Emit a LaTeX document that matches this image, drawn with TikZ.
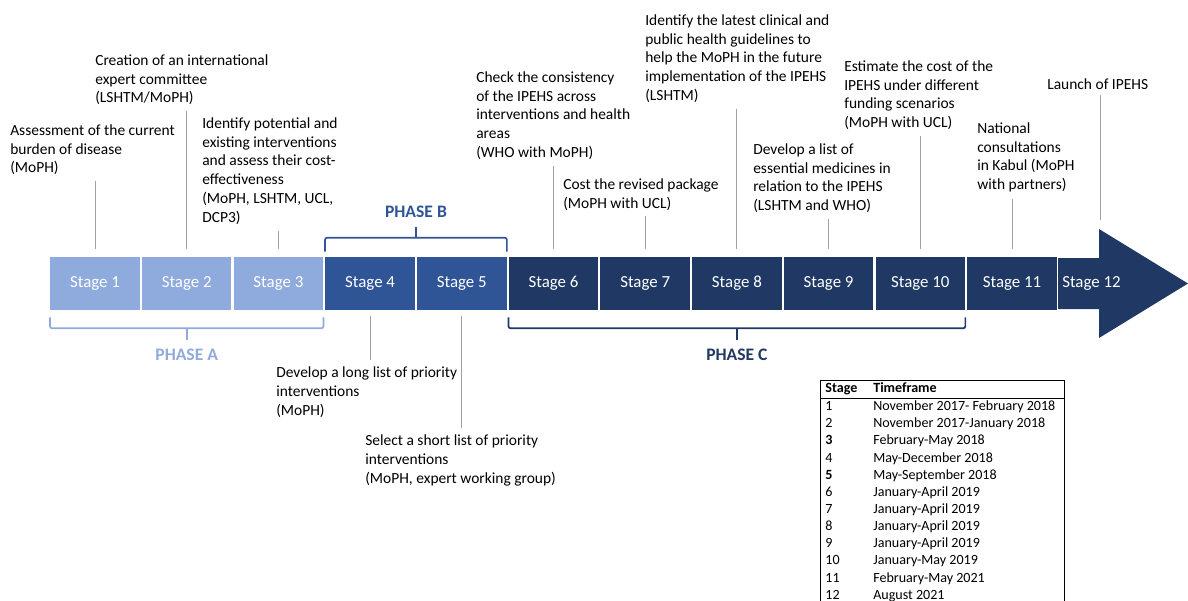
\documentclass[tikz,border=0pt]{standalone}
\usepackage{fontspec}
\setmainfont{Carlito}
\usetikzlibrary{calc}
\definecolor{phA}{HTML}{8FAADC}
\definecolor{phB}{HTML}{2F5597}
\definecolor{phC}{HTML}{203864}
\definecolor{leadgray}{HTML}{A0A0A0}
\tikzset{
  stagebox/.style={minimum width=2.2375cm, minimum height=1.325cm, inner sep=0pt, text=white, font=\fontsize{12}{14}\selectfont},
  note/.style={anchor=north west, align=left, inner sep=0pt, font=\fontsize{11}{13.5}\selectfont},
  leader/.style={draw=leadgray, line width=0.6pt, shorten >=1.5mm},
  bracket/.style={line width=1.2pt, rounded corners=1.5pt},
  phase/.style={font=\bfseries\fontsize{12.5}{15}\selectfont},
}
\begin{document}
\begin{tikzpicture}[x=0.025cm, y=-0.025cm, line join=round]
\useasboundingbox (0,0) rectangle (1188,600);
\def\pitch{91.7}
% stage boxes
\foreach \i/\c in {1/phA,2/phA,3/phA,4/phB,5/phB,6/phC,7/phC,8/phC,9/phC,10/phC,11/phC}
  \node[stagebox, fill=\c] (s\i) at ({95+\pitch*(\i-1)},283.5) {Stage \i};
\fill[phC] (1058,258) -- (1099,258) -- (1099,229) -- (1188,283.5) -- (1099,338) -- (1099,309) -- (1058,309) -- cycle;
\coordinate (h12) at (1100,229);
\node[anchor=west, inner sep=0pt, text=white, font=\fontsize{12}{14}\selectfont] (s12) at (1062,283.5) {Stage 12};

% phases
\draw[bracket,phA] ($(s1.south west)+(0,7)$) -- ++(0,11) -| ($(s3.south east)+(0,7)$);
\draw[bracket,phA] ($(s1.south west)!.5!(s3.south east)+(0,18)$) -- ++(0,12);
\node[phase, text=phA] (pa) at ($(s1.south west)!.5!(s3.south east)+(0,44)$) {PHASE A};
\draw[bracket,phB] ($(s4.north west)+(0,-5)$) -- ++(0,-14) -| ($(s5.north east)+(0,-5)$);
\draw[bracket,phB] ($(s4.north west)!.5!(s5.north east)+(0,-19)$) -- ++(0,-11);
\node[phase, text=phB] (pb) at ($(s4.north west)!.5!(s5.north east)+(0,-45)$) {PHASE B};
\draw[bracket,phC] ($(s6.south west)+(0,7)$) -- ++(0,11) -| ($(s10.south east)+(0,7)$);
\draw[bracket,phC] ($(s6.south west)!.5!(s10.south east)+(0,18)$) -- ++(0,12);
\node[phase, text=phC] (pc) at ($(s6.south west)!.5!(s10.south east)+(0,44)$) {PHASE C};

% notes
\node[note] (t1) at (10,124) {Assessment of the current\\burden of disease\\(MoPH)};
\node[note] (t2) at (95,54) {Creation of an international\\expert committee\\(LSHTM/MoPH)};
\node[note] (t3) at (202,117) {Identify potential and\\existing interventions\\and assess their cost-\\effectiveness\\(MoPH, LSHTM, UCL,\\DCP3)};
\node[note] (t4) at (276,366) {Develop a long list of priority\\interventions\\(MoPH)};
\node[note] (t5) at (365,434) {Select a short list of priority\\interventions\\(MoPH, expert working group)};
\node[note] (t6) at (476,71) {Check the consistency\\of the IPEHS across\\interventions and health\\areas\\(WHO with MoPH)};
\node[note] (t7) at (563,178) {Cost the revised package\\(MoPH with UCL)};
\node[note] (t8) at (645,14) {Identify the latest clinical and\\public health guidelines to\\help the MoPH in the future\\implementation of the IPEHS\\(LSHTM)};
\node[note] (t9) at (753,143) {Develop a list of\\essential medicines in\\relation to the IPEHS\\(LSHTM and WHO)};
\node[note] (t10) at (844,60) {Estimate the cost of the\\IPEHS under different\\funding scenarios\\(MoPH with UCL)};
\node[note] (t11) at (977,122) {National\\consultations\\in Kabul (MoPH\\with partners)};
\node[note] (t12) at (1047,78) {Launch of IPEHS};

% leader lines
\foreach \i in {1,2,3,6,7,8,9,10,11}
  \draw[leader] (s\i.north) ++(0,-8) -- (s\i.north |- t\i.south);
\foreach \i in {4,5}
  \draw[leader] (s\i.south) ++(0,6) -- (s\i.south |- t\i.north);
\draw[leader] (h12) ++(0,-9) -- (h12 |- t12.south);

% timeframes
\node[anchor=north west, inner sep=0pt, font=\fontsize{10}{12.2}\selectfont] (tab) at (820,380) {%
\begin{tabular}{|@{\hspace{3.5pt}}p{34pt}@{}p{132pt}@{\hspace{4pt}}|}
\hline
\textbf{Stage} & \textbf{Timeframe}\\
\hline
1 & November 2017- February 2018\\
2 & November 2017-January 2018\\
\textbf{3} & February-May 2018\\
4 & May-December 2018\\
\textbf{5} & May-September 2018\\
6 & January-April 2019\\
7 & January-April 2019\\
8 & January-April 2019\\
9 & January-April 2019\\
10 & January-May 2019\\
11 & February-May 2021\\
12 & August 2021\\
\end{tabular}};
\end{tikzpicture}
\end{document}
